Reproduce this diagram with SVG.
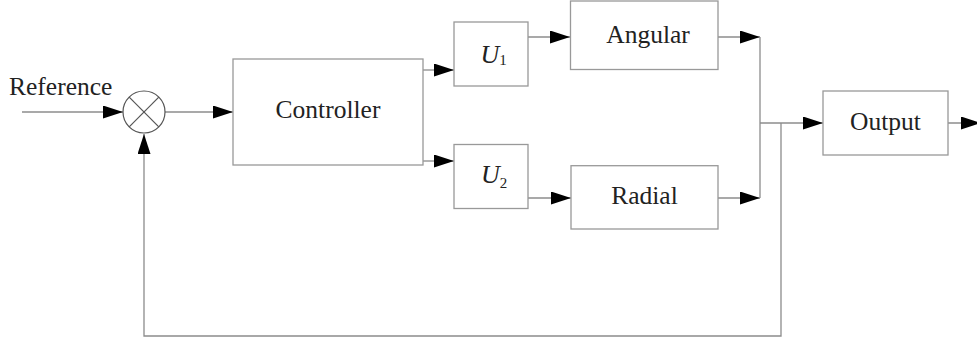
<svg xmlns="http://www.w3.org/2000/svg" width="977" height="341" viewBox="0 0 977 341">
<style>
.box{fill:#fff;stroke:#999;stroke-width:1.3}
.ln{fill:none;stroke:#8c8c8c;stroke-width:1.3}
.arr{fill:none;stroke:#8c8c8c;stroke-width:1.3;marker-end:url(#ah)}
.t{font-family:"Liberation Serif","Times New Roman",serif;font-size:25.5px;fill:#222}
.m{text-anchor:middle}
</style>
<defs>
<marker id="ah" markerUnits="userSpaceOnUse" markerWidth="21" markerHeight="14" refX="20" refY="6.5" orient="auto">
<path d="M0,0 L20,6.5 L0,13 z" fill="#000"/>
</marker>
</defs>
<rect width="977" height="341" fill="#fff"/>
<g id="connectors">
<line class="arr" x1="22" y1="112" x2="123" y2="112"/>
<line class="arr" x1="165" y1="112" x2="233" y2="112"/>
<polyline class="arr" points="423,70 454,70"/>
<polyline class="arr" points="423,161 454,161"/>
<line class="arr" x1="528" y1="37" x2="570" y2="37"/>
<line class="arr" x1="528" y1="198" x2="571" y2="198"/>
<line class="arr" x1="718" y1="37" x2="760" y2="37"/>
<line class="arr" x1="718" y1="198" x2="760" y2="198"/>
<line class="ln" x1="760" y1="37" x2="760" y2="198"/>
<line class="arr" x1="760" y1="123" x2="823" y2="123"/>
<polyline class="arr" points="781,123 781,336 144,336 144,134"/>
<line class="arr" x1="948" y1="123" x2="981" y2="123"/>
</g>
<g id="reference-label"><text class="t" x="9" y="95">Reference</text></g>
<g id="sum">
<circle cx="144" cy="112" r="21" fill="#fff" stroke="#555" stroke-width="1.2"/>
<line x1="129.2" y1="97.2" x2="158.8" y2="126.8" stroke="#555" stroke-width="1.2"/>
<line x1="158.8" y1="97.2" x2="129.2" y2="126.8" stroke="#555" stroke-width="1.2"/>
</g>
<g id="controller">
<rect class="box" x="233" y="59" width="190" height="106"/>
<text class="t m" x="328" y="118">Controller</text>
</g>
<g id="u1">
<rect class="box" x="454" y="22" width="74" height="64"/>
<text class="t" x="480.5" y="62.7"><tspan font-style="italic" font-size="26">U</tspan><tspan font-size="15" dy="2.5">1</tspan></text>
</g>
<g id="u2">
<rect class="box" x="454" y="144.5" width="74" height="64"/>
<text class="t" x="481" y="183"><tspan font-style="italic" font-size="26">U</tspan><tspan font-size="15" dy="4.5">2</tspan></text>
</g>
<g id="angular">
<rect class="box" x="570.5" y="1" width="147.5" height="68.5"/>
<text class="t m" x="648" y="43.3">Angular</text>
</g>
<g id="radial">
<rect class="box" x="571" y="165.7" width="147" height="63.3"/>
<text class="t m" x="644.5" y="204">Radial</text>
</g>
<g id="output">
<rect class="box" x="823" y="91" width="125" height="64"/>
<text class="t m" x="885.5" y="129.5">Output</text>
</g>
</svg>
